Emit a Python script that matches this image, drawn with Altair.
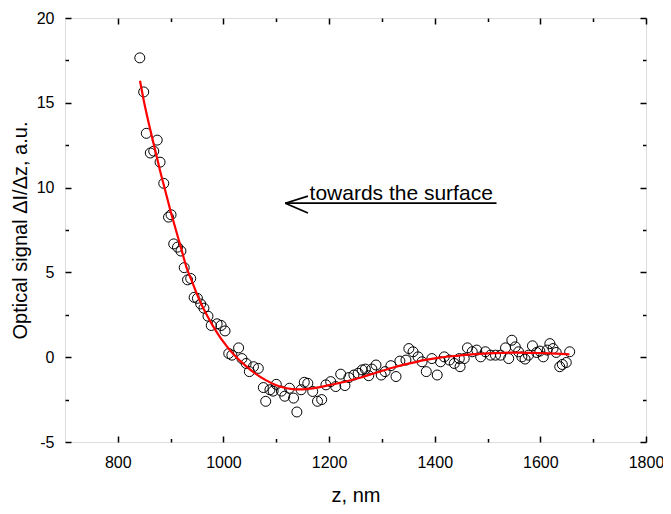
import altair as alt
import pandas as pd

# ---- data ----
point_z = [841.6, 849, 854, 861.5, 868, 874.6, 880, 887, 896, 900.8, 905.8, 913, 919.5, 925.7,
           932, 938, 944.5, 950.7, 956.9, 963, 970.7, 976.9, 988, 995.6, 1003, 1010, 1016,
           1028.7, 1035, 1043, 1049, 1056.8, 1066, 1075.5, 1080, 1088, 1094, 1100, 1109.7,
           1116, 1125, 1132.7, 1139, 1147, 1153, 1159.7, 1169, 1178, 1186, 1194, 1203, 1212.6,
           1222, 1230, 1237.5, 1247, 1255, 1262.6, 1268.7, 1275, 1281, 1288.8, 1298.7, 1306,
           1317, 1326.7, 1334, 1345.5, 1351, 1359, 1368.5, 1376, 1384, 1394.6, 1404.7, 1411,
           1418, 1427.8, 1437, 1446.5, 1448, 1455.8, 1462, 1471, 1479.5, 1487, 1496, 1505.7,
           1515, 1524.6, 1534, 1540, 1546, 1552.6, 1558.7, 1565, 1571, 1577.5, 1585, 1593,
           1599, 1605.5, 1613, 1618, 1624, 1630, 1636.7, 1641.6, 1649, 1655.5]
point_signal = [17.65, 15.64, 13.2, 12.04, 12.15, 12.8, 11.5, 10.25, 8.26, 8.4, 6.68, 6.49, 6.26,
                5.28, 4.56, 4.64, 3.53, 3.47, 3.14, 2.89, 2.42, 1.87, 1.97, 1.87, 1.55, 0.22, 0.12,
                0.55, -0.08, -0.37, -0.85, -0.56, -0.66, -1.79, -2.6, -1.92, -2.0, -1.6, -2.0,
                -2.3, -1.83, -2.41, -3.23, -1.92, -1.48, -1.54, -2.02, -2.6, -2.5, -1.63, -1.44,
                -1.73, -1.0, -1.67, -1.2, -1.05, -0.95, -0.75, -0.7, -1.09, -0.7, -0.46, -1.05,
                -0.85, -0.5, -1.14, -0.23, -0.17, 0.51, 0.32, 0.02, -0.27, -0.85, -0.08, -1.05,
                -0.27, 0.02, -0.17, -0.37, -0.08, -0.56, -0.08, 0.55, 0.32, 0.42, 0.02, 0.32, 0.12,
                0.12, 0.12, 0.55, -0.08, 1.0, 0.61, 0.32, 0.02, -0.11, 0.12, 0.67, 0.28, 0.36,
                0.02, 0.42, 0.8, 0.51, 0.28, -0.56, -0.43, -0.31, 0.32]

fit_z = [842, 850, 860, 870, 880, 890, 900, 910, 920, 930, 940, 950, 960, 970, 980, 990, 1000,
         1010, 1020, 1040, 1060, 1080, 1100, 1120, 1140, 1160, 1180, 1200, 1230, 1260, 1290,
         1320, 1350, 1380, 1410, 1440, 1470, 1500, 1530, 1560, 1590, 1620, 1655]
fit_signal = [16.3, 15.0, 13.6, 12.3, 11.0, 9.8, 8.6, 7.5, 6.4, 5.3, 4.5, 3.7, 3.0, 2.4, 1.85,
              1.35, 0.9, 0.5, 0.15, -0.45, -0.95, -1.35, -1.65, -1.83, -1.9, -1.87, -1.78, -1.65,
              -1.45, -1.2, -0.9, -0.62, -0.38, -0.17, -0.02, 0.08, 0.17, 0.23, 0.26, 0.27, 0.25,
              0.22, 0.17]

x_major = [800, 1000, 1200, 1400, 1600, 1800]
x_minor = [900, 1100, 1300, 1500, 1700]
y_major = [-5, 0, 5, 10, 15, 20]
y_minor = [-2.5, 2.5, 7.5, 12.5, 17.5]

arrow_x1 = [1117, 1117, 1117]
arrow_y1 = [9.08, 9.08, 9.08]
arrow_x2 = [1517, 1160, 1160]
arrow_y2 = [9.08, 9.5, 8.5]

label_text = ["towards the surface"]
label_z = [1163]
label_signal = [9.25]

FONT = "Liberation Sans"

pts = pd.DataFrame({"z": point_z, "s": point_signal})
fit = pd.DataFrame({"z": fit_z, "s": fit_signal})
arrows = pd.DataFrame({"x1": arrow_x1, "y1": arrow_y1, "x2": arrow_x2, "y2": arrow_y2})
lab = pd.DataFrame({"t": label_text, "z": label_z, "s": label_signal})

xs = alt.Scale(domain=[700, 1800], nice=False, zero=False)
ys = alt.Scale(domain=[-5, 20], nice=False, zero=False)


def tick_axis(orient, values, size, labels=False, **kw):
    return alt.Axis(orient=orient, values=values, offset=-size, tickSize=size,
                    tickColor="black", tickWidth=1.5, domain=False, grid=False,
                    labels=labels, labelFlush=False, labelOverlap=False, **kw)


x_main = tick_axis("bottom", x_major, 6, labels=True, labelPadding=12,
                   labelFont=FONT, labelFontSize=16, labelColor="black",
                   labelExpr="'' + datum.value",
                   title="z, nm", titleFont=FONT, titleFontSize=20,
                   titleFontWeight="normal", titleColor="black", titlePadding=15)
y_main = tick_axis("left", y_major, 6, labels=True, labelPadding=11,
                   labelFont=FONT, labelFontSize=16, labelColor="black",
                   labelExpr="'' + datum.value",
                   title="Optical signal  \u0394I/\u0394z, a.u.", titleFont=FONT,
                   titleFontSize=20, titleFontWeight="normal", titleColor="black",
                   titlePadding=6)

points = alt.Chart(pts).mark_point(shape="circle", filled=False, color="black",
                                   size=100, strokeWidth=1, opacity=1).encode(
    x=alt.X("z:Q", scale=xs, axis=x_main),
    y=alt.Y("s:Q", scale=ys, axis=y_main),
)

line = alt.Chart(fit).mark_line(color="#ff0000", strokeWidth=2.2, interpolate="monotone").encode(
    x=alt.X("z:Q", scale=xs, axis=tick_axis("bottom", x_minor, 3.5, title=None)),
    y=alt.Y("s:Q", scale=ys, axis=tick_axis("left", y_minor, 3.5, title=None)),
)

arrow = alt.Chart(arrows).mark_rule(color="black", strokeWidth=1.7).encode(
    x=alt.X("x1:Q", scale=xs, axis=tick_axis("top", x_major, 6, title=None)),
    y=alt.Y("y1:Q", scale=ys, axis=tick_axis("right", y_major, 6, title=None)),
    x2="x2:Q",
    y2="y2:Q",
)

text = alt.Chart(lab).mark_text(align="left", baseline="alphabetic", font=FONT,
                                fontSize=21, color="black").encode(
    x=alt.X("z:Q", scale=xs, axis=tick_axis("top", x_minor, 3.5, title=None)),
    y=alt.Y("s:Q", scale=ys, axis=tick_axis("right", y_minor, 3.5, title=None)),
    text="t:N",
)

chart = alt.layer(points, line, arrow, text).resolve_axis(
    x="independent", y="independent"
).properties(
    width=581, height=424,
    autosize=alt.AutoSizeParams(type="none"),
    padding={"left": 57, "top": 10, "right": 17, "bottom": 64},
).configure_view(stroke="black", strokeWidth=1.5).configure(background="white")

chart.save("out.html", embed_options={"renderer": "svg", "actions": False})
